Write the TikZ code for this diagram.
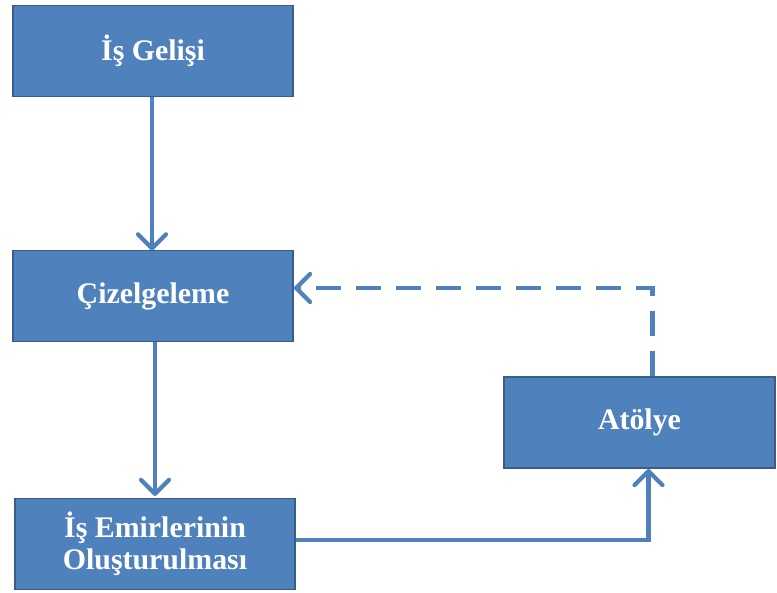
\documentclass[tikz,border=0pt]{standalone}
\usepackage{fontspec}
\setmainfont{Liberation Serif}
\usetikzlibrary{arrows.meta}
\definecolor{boxfill}{HTML}{4F81BD}
\definecolor{boxline}{HTML}{385D8A}
\begin{document}
\begin{tikzpicture}
			\tikzstyle{every node}=[font=\fontsize{17}{18.5}\selectfont\bfseries, text=white, align=center]
			\tikzstyle{kutu}=[draw=boxline, fill=boxfill, line width=1.1pt, minimum width=5.6cm, minimum height=1.82cm, inner sep=0pt]
			\tikzstyle{ok}=[draw=boxfill, line width=2.4pt, -{Straight Barb[length=0.28cm, width=0.56cm, round]}]
			\useasboundingbox (0, 0) rectangle (15.54, 11.84);
			\node[kutu] (IsGelisi) at (3.06, 10.82) {İş Gelişi};
			\node[kutu] (Cizelgeleme) at (3.06, 5.92) {Çizelgeleme};
			\node[kutu] (IsEmirleri) at (3.10, 0.96) {İş Emirlerinin\\Oluşturulması};
			\node[kutu, minimum width=5.42cm] (Atolye) at (12.79, 3.39) {Atölye};
			\draw[ok](IsGelisi.south)++(-0.02, 0)--++(0, -3.06);
			\draw[ok](Cizelgeleme.south)++(0.04, 0)--++(0, -3.07);
			\draw[ok](IsEmirleri.east)++(0, 0.08)-|([xshift=0.18cm]Atolye.south);
			\draw[ok, dashed, dash pattern=on 0.5cm off 0.3cm](Atolye.north)++(0.26, 0)|-([yshift=0.16cm]Cizelgeleme.east);
		\end{tikzpicture}
\end{document}
